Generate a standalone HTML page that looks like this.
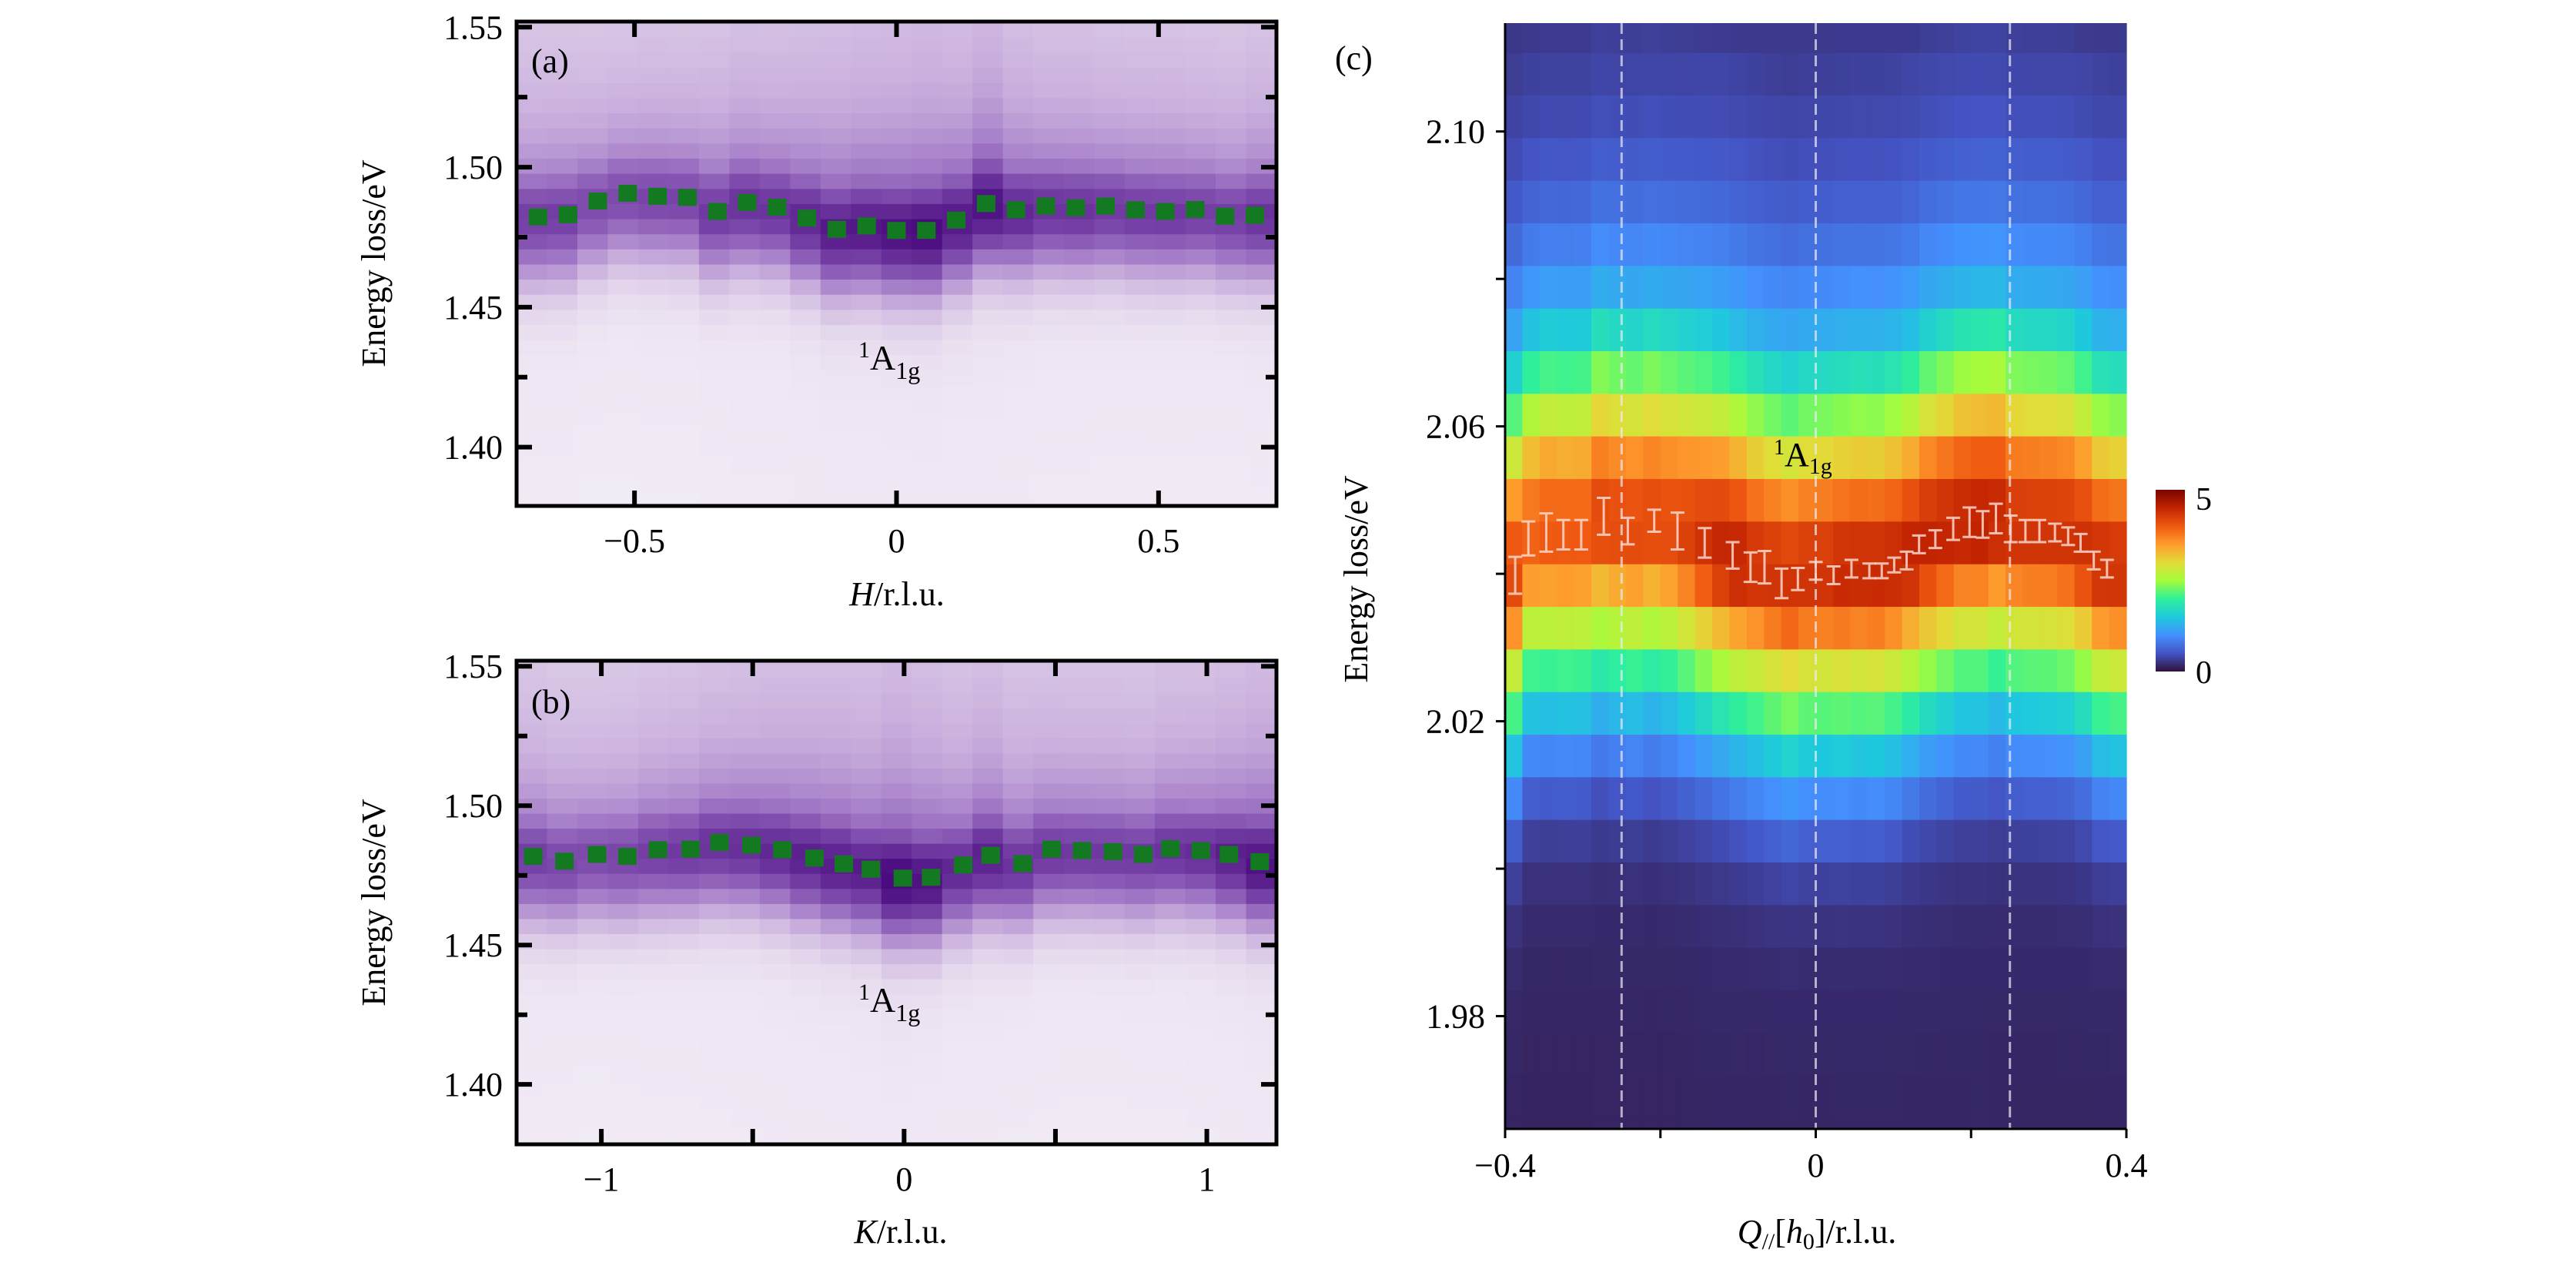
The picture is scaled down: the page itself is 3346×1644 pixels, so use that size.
<!DOCTYPE html>
<html><head><meta charset="utf-8">
<style>
html,body{margin:0;padding:0;background:#fff;}
svg{display:block;font-family:"Liberation Serif",serif;}
</style></head>
<body>
<svg id="fig" width="3346" height="1644" viewBox="0 0 3346 1644" xmlns="http://www.w3.org/2000/svg">
<g id="pa"></g>
<g id="pb"></g>
<g id="pc"></g>
<defs>
<linearGradient id="turboGrad" x1="0" y1="1" x2="0" y2="0">
<stop offset="0" stop-color="#30123b"/><stop offset="0.1" stop-color="#4454c4"/><stop offset="0.2" stop-color="#4490fe"/><stop offset="0.3" stop-color="#1fc9dd"/><stop offset="0.4" stop-color="#2ff09b"/><stop offset="0.5" stop-color="#a4fc3c"/><stop offset="0.6" stop-color="#e2dc38"/><stop offset="0.7" stop-color="#fe9b2d"/><stop offset="0.8" stop-color="#ef5911"/><stop offset="0.9" stop-color="#c22402"/><stop offset="1" stop-color="#7a0403"/>
</linearGradient>
</defs>
<text x="690" y="94" font-size="44">(a)</text>
<text x="690" y="926" font-size="44">(b)</text>
<text x="1734" y="90" font-size="44">(c)</text>
<text x="1115" y="480" font-size="46"><tspan dy="-16" font-size="30">1</tspan><tspan dy="16">A</tspan><tspan dy="12" font-size="32">1g</tspan></text>
<text x="1115" y="1314" font-size="46"><tspan dy="-16" font-size="30">1</tspan><tspan dy="16">A</tspan><tspan dy="12" font-size="32">1g</tspan></text>
<text x="2304" y="605" font-size="44"><tspan dy="-15" font-size="28">1</tspan><tspan dy="15">A</tspan><tspan dy="10" font-size="30">1g</tspan></text>
<text transform="translate(500,342) rotate(-90)" text-anchor="middle" font-size="44">Energy loss/eV</text>
<text transform="translate(500,1172) rotate(-90)" text-anchor="middle" font-size="44">Energy loss/eV</text>
<text transform="translate(1776,752) rotate(-90)" text-anchor="middle" font-size="44">Energy loss/eV</text>
<text x="1165" y="786" text-anchor="middle" font-size="44"><tspan font-style="italic">H</tspan>/r.l.u.</text>
<text x="1170" y="1614" text-anchor="middle" font-size="44"><tspan font-style="italic">K</tspan>/r.l.u.</text>
<text x="2360" y="1614" text-anchor="middle" font-size="44"><tspan font-style="italic">Q</tspan><tspan font-size="30" dy="8">//</tspan><tspan dy="-8">[</tspan><tspan font-style="italic">h</tspan><tspan font-size="30" dy="8">0</tspan><tspan dy="-8">]/r.l.u.</tspan></text>
<rect x="2800" y="636" width="38" height="236" fill="url(#turboGrad)"/>
<text x="2852" y="662" font-size="42">5</text>
<text x="2852" y="887" font-size="42">0</text>
</svg>
<script>
// ---------- Panel (a) data ----------
const aH = [-0.684,-0.627,-0.570,-0.513,-0.456,-0.399,-0.342,-0.285,-0.228,-0.171,-0.114,-0.057,0.000,0.057,0.114,0.171,0.228,0.285,0.342,0.399,0.456,0.513,0.570,0.627,0.684];
const aE = [1.4822,1.4830,1.4879,1.4907,1.4896,1.4892,1.4842,1.4874,1.4857,1.4818,1.4778,1.4790,1.4774,1.4774,1.4811,1.4870,1.4848,1.4861,1.4855,1.4861,1.4848,1.4842,1.4849,1.4825,1.4828];
const aErr = [0.0008,0.0007,0.0007,0.0006,0.0006,0.0006,0.0006,0.0006,0.0006,0.0007,0.0015,0.0017,0.0015,0.0015,0.0008,0.0006,0.0006,0.0007,0.0007,0.0007,0.0007,0.0007,0.0007,0.0007,0.0009];
const aAmp = [0.95,0.95,0.9,0.9,0.92,0.92,0.97,1.0,1.0,1.05,1.1,1.12,1.15,1.18,1.12,1.15,1.05,1.0,1.0,0.97,0.97,0.97,0.95,0.95,1.0];
const aXTicks = [-0.5,0,0.5];
const aXTickLabels = ["\u22120.5","0","0.5"];
// ---------- Panel (b) data ----------
const bK = [-1.225,-1.122,-1.014,-0.914,-0.813,-0.705,-0.610,-0.504,-0.402,-0.296,-0.199,-0.110,-0.004,0.089,0.195,0.286,0.392,0.487,0.588,0.690,0.790,0.880,0.980,1.073,1.175];
const bE = [1.4818,1.4801,1.4825,1.4818,1.4842,1.4844,1.4868,1.4858,1.4842,1.4812,1.4791,1.4772,1.4740,1.4743,1.4787,1.4822,1.4792,1.4844,1.4839,1.4835,1.4825,1.4846,1.4839,1.4825,1.4799];
const bErr = [0.0008,0.0010,0.0010,0.0010,0.0006,0.0006,0.0005,0.0006,0.0006,0.0006,0.0006,0.0015,0.0014,0.0014,0.0015,0.0007,0.0006,0.0006,0.0006,0.0006,0.0006,0.0010,0.0012,0.0012,0.0010];
const bAmp = [0.95,0.92,0.9,0.92,0.95,0.97,1.0,1.02,1.05,1.08,1.1,1.1,1.2,1.15,1.05,1.08,1.0,0.98,0.97,0.97,0.97,1.0,1.02,1.08,1.15];
const bXTicks = [-1,0,1];
const bXTickLabels = ["\u22121","0","1"];
// shared profile for (a),(b)
const abProfE = [1.370,1.400,1.420,1.435,1.445,1.455,1.462,1.470,1.478,1.485,1.492,1.500,1.507,1.515,1.525,1.540,1.560];
const abProfV = [0.06,0.07,0.08,0.10,0.15,0.28,0.45,0.66,0.82,0.86,0.76,0.58,0.50,0.44,0.38,0.33,0.28];
const abYTicks = [1.40,1.45,1.50,1.55];
const abYTickLabels = ["1.40","1.45","1.50","1.55"];
// ---------- Panel (c) data ----------
const cQ = [-0.387,-0.370,-0.347,-0.325,-0.302,-0.273,-0.242,-0.208,-0.178,-0.143,-0.107,-0.084,-0.066,-0.044,-0.023,0.000,0.023,0.046,0.069,0.085,0.101,0.117,0.133,0.154,0.177,0.198,0.215,0.232,0.251,0.270,0.288,0.308,0.325,0.341,0.358,0.375];
const cE = [2.0398,2.0448,2.0456,2.0453,2.0453,2.0478,2.0458,2.0472,2.0458,2.0442,2.0425,2.0409,2.0409,2.0387,2.0393,2.0404,2.0398,2.0407,2.0404,2.0404,2.0412,2.0418,2.0440,2.0447,2.0461,2.0470,2.0467,2.0475,2.0461,2.0458,2.0458,2.0456,2.0451,2.0442,2.0418,2.0407];
const cErr = [0.0025,0.0023,0.0026,0.0020,0.0020,0.0025,0.0018,0.0015,0.0025,0.0020,0.0018,0.0020,0.0022,0.0020,0.0015,0.0012,0.0012,0.0012,0.0010,0.0010,0.0010,0.0012,0.0012,0.0012,0.0015,0.0020,0.0018,0.0020,0.0018,0.0015,0.0015,0.0012,0.0012,0.0012,0.0012,0.0012];
const cProfE = [1.960,1.9691,1.9748,1.9807,1.9866,1.9924,1.9982,2.0039,2.0097,2.0155,2.0213,2.0270,2.0328,2.0386,2.0443,2.0501,2.0559,2.0615,2.0677,2.0735,2.0792,2.0851,2.0909,2.0966,2.1020,2.1080,2.1130,2.120];
const cProfV = [0.15,0.15,0.16,0.17,0.18,0.22,0.3,0.45,0.8,1.25,1.9,2.6,3.3,4.3,4.4,4.0,3.3,2.6,1.9,1.35,1.05,0.8,0.62,0.5,0.42,0.38,0.3,0.3];
const cAmp = [0.95,0.9,0.92,0.92,0.92,0.95,0.95,0.95,0.95,0.95,0.97,1.0,1.02,1.02,1.0,1.0,1.0,1.0,1.0,1.02,1.02,1.02,1.02,1.02,1.03,1.03,1.03,1.04,1.02,1.0,1.0,1.0,1.0,1.0,1.0,1.0];
const cYTicks = [1.98,2.02,2.06,2.10];
const cYTickLabels = ["1.98","2.02","2.06","2.10"];
const cYMinor = [2.00,2.04,2.08];
const cXTicks = [-0.4,0,0.4];
const cXTickLabels = ["\u22120.4","0","0.4"];
const cXMinor = [-0.2,0.2];
const cDashed = [-0.25,0,0.25];

const NS = "http://www.w3.org/2000/svg";
function mk(tag, parent){ const e=document.createElementNS(NS,tag); parent.appendChild(e); return e; }
function interp(xs, ys, x){
  if(x<=xs[0]) return ys[0];
  for(let i=1;i<xs.length;i++){ if(x<=xs[i]){ const t=(x-xs[i-1])/(xs[i]-xs[i-1]); return ys[i-1]+t*(ys[i]-ys[i-1]); } }
  return ys[ys.length-1];
}
function hex(c){return [parseInt(c.slice(1,3),16),parseInt(c.slice(3,5),16),parseInt(c.slice(5,7),16)];}
function cmap(stops, t){
  t=Math.max(0,Math.min(1,t));
  const n=stops.length-1, p=t*n, i=Math.min(n-1,Math.floor(p)), f=p-i;
  const a=hex(stops[i]), b=hex(stops[i+1]);
  return "rgb("+a.map((v,k)=>Math.round(v+(b[k]-v)*f)).join(",")+")";
}
const purples=["#f7f3f9","#e3d6ec","#c8addc","#a178c6","#7540a6","#4a0b7e"];
const turbo=["#30123b","#4454c4","#4490fe","#1fc9dd","#2ff09b","#a4fc3c","#e2dc38","#fe9b2d","#ef5911","#c22402","#7a0403"];

function panelAB(g, box, xr, yr, xs, es, errs, amps, xTicks, xTickLabels, xMinor, nameP){
  const X=v=>box.x+(v-xr[0])/(xr[1]-xr[0])*box.w;
  const Y=v=>box.y+box.h-(v-yr[0])/(yr[1]-yr[0])*box.h;
  const nCol=xs.length, colW=(xr[1]-xr[0])/nCol;
  const rowH=0.0054, nRow=Math.ceil((yr[1]-yr[0])/rowH);
  const ref=1.484;
  for(let j=0;j<nCol;j++){
    const x0=xr[0]+j*colW, xc=x0+colW/2;
    const p=interp(xs,es,xc);
    for(let i=0;i<nRow;i++){
      const e0=yr[0]+i*rowH, ec=e0+rowH/2;
      const v=amps[j]*interp(abProfE,abProfV,ec-(p-ref));
      const r=mk("rect",g);
      
      
      const yTop=Y(Math.min(e0+rowH,yr[1]));
      r.setAttribute("x",X(x0)); r.setAttribute("y",yTop);
      r.setAttribute("width",X(x0+colW)-X(x0)+0.6); r.setAttribute("height",Y(e0)-yTop+0.6);
      r.setAttribute("fill",cmap(purples,v));
    }
  }
  for(let k=0;k<xs.length;k++){
    const cx=X(xs[k]), cy=Y(es[k]);
    const eb=mk("path",g);
    
    
    const y1=Y(es[k]+errs[k]), y2=Y(es[k]-errs[k]);
    eb.setAttribute("d",`M${cx},${y1}V${y2}M${cx-6},${y1}H${cx+6}M${cx-6},${y2}H${cx+6}`);
    eb.setAttribute("stroke","#1f6f2a"); eb.setAttribute("stroke-width","2.5"); eb.setAttribute("fill","none");
    const s=mk("rect",g);
    
    
    s.setAttribute("x",cx-12); s.setAttribute("y",cy-11); s.setAttribute("width",24); s.setAttribute("height",22);
    s.setAttribute("fill","#137a22");
  }
  const fr=mk("rect",g);
  
  
  fr.setAttribute("x",box.x); fr.setAttribute("y",box.y); fr.setAttribute("width",box.w); fr.setAttribute("height",box.h);
  fr.setAttribute("fill","none"); fr.setAttribute("stroke","#000"); fr.setAttribute("stroke-width","5");
  const yAll=[1.40,1.425,1.45,1.475,1.50,1.525,1.55];
  yAll.forEach((v,i)=>{
    const y=Y(v), major=(i%2===0);
    const L=major?20:14;
    const t=mk("path",g);
    
    
    t.setAttribute("d",`M${box.x},${y}h${L}M${box.x+box.w},${y}h${-L}`);
    t.setAttribute("stroke","#000"); t.setAttribute("stroke-width","6");
  });
  abYTicks.forEach((v,i)=>{
    const tx=mk("text",g);
    
    
    tx.setAttribute("x",box.x-18); tx.setAttribute("y",Y(v)+15); tx.setAttribute("text-anchor","end"); tx.setAttribute("font-size","44");
    tx.textContent=abYTickLabels[i];
  });
  xTicks.concat(xMinor).forEach(v=>{
    const x=X(v);
    const t=mk("path",g);
    
    
    t.setAttribute("d",`M${x},${box.y}v20M${x},${box.y+box.h}v-20`);
    t.setAttribute("stroke","#000"); t.setAttribute("stroke-width","6");
  });
  xTicks.forEach((v,i)=>{
    const tx=mk("text",g);
    
    
    tx.setAttribute("x",X(v)); tx.setAttribute("y",box.y+box.h+60); tx.setAttribute("text-anchor","middle"); tx.setAttribute("font-size","44");
    tx.textContent=xTickLabels[i];
  });
}
panelAB(document.getElementById("pa"),{x:671,y:28,w:987,h:629},[-0.725,0.725],[1.379,1.552],aH,aE,aErr,aAmp,aXTicks,aXTickLabels,[],"a");
panelAB(document.getElementById("pb"),{x:671,y:858,w:987,h:628},[-1.28,1.23],[1.3785,1.552],bK,bE,bErr,bAmp,bXTicks,bXTickLabels,[-0.5,0.5],"b");

(function(){
  const g=document.getElementById("pc");
  const box={x:1955,y:30,w:807,h:1436};
  const xr=[-0.4,0.4], yr=[1.9647,2.1147];
  const X=v=>box.x+(v-xr[0])/(xr[1]-xr[0])*box.w;
  const Y=v=>box.y+box.h-(v-yr[0])/(yr[1]-yr[0])*box.h;
  const nCol=cQ.length, colW=(xr[1]-xr[0])/nCol;
  const rowH=0.00578, edge0=2.0587;
  const ref=2.0425;
  const kMin=Math.floor((yr[0]-edge0)/rowH), kMax=Math.ceil((yr[1]-edge0)/rowH);
  for(let j=0;j<nCol;j++){
    const x0=xr[0]+j*colW, xc=x0+colW/2;
    const p=interp(cQ,cE,xc);
    for(let k=kMin;k<kMax;k++){
      const e0=Math.max(yr[0],edge0+k*rowH), e1=Math.min(yr[1],edge0+(k+1)*rowH);
      const ec=edge0+(k+0.5)*rowH;
      const v=cAmp[j]*interp(cProfE,cProfV,ec-(p-ref));
      const r=mk("rect",g);
      
      
      r.setAttribute("x",X(x0)); r.setAttribute("y",Y(e1));
      r.setAttribute("width",X(x0+colW)-X(x0)+0.6); r.setAttribute("height",Y(e0)-Y(e1)+0.6);
      r.setAttribute("fill",cmap(turbo,v/5));
    }
  }
  cDashed.forEach(v=>{
    const l=mk("line",g);
    
    
    l.setAttribute("x1",X(v)); l.setAttribute("x2",X(v)); l.setAttribute("y1",box.y); l.setAttribute("y2",box.y+box.h);
    l.setAttribute("stroke","rgba(235,235,245,0.7)"); l.setAttribute("stroke-width","3"); l.setAttribute("stroke-dasharray","14 7");
  });
  for(let k=0;k<cQ.length;k++){
    const cx=X(cQ[k]), y1=Y(cE[k]+cErr[k]), y2=Y(cE[k]-cErr[k]);
    const eb=mk("path",g);
    
    
    eb.setAttribute("d",`M${cx},${y1}V${y2}M${cx-9},${y1}H${cx+9}M${cx-9},${y2}H${cx+9}`);
    eb.setAttribute("stroke","rgba(250,215,205,0.85)"); eb.setAttribute("stroke-width","3"); eb.setAttribute("fill","none");
  }
  const ax=mk("path",g);
  
  
  ax.setAttribute("d",`M${box.x},${box.y}V${box.y+box.h}H${box.x+box.w}`);
  ax.setAttribute("stroke","#000"); ax.setAttribute("stroke-width","3"); ax.setAttribute("fill","none");
  cYTicks.concat(cYMinor).forEach(v=>{
    const t=mk("path",g);
    
    
    t.setAttribute("d",`M${box.x},${Y(v)}h-12`); t.setAttribute("stroke","#000"); t.setAttribute("stroke-width","3");
  });
  cYTicks.forEach((v,i)=>{
    const tx=mk("text",g);
    
    
    tx.setAttribute("x",box.x-26); tx.setAttribute("y",Y(v)+15); tx.setAttribute("text-anchor","end"); tx.setAttribute("font-size","44");
    tx.textContent=cYTickLabels[i];
  });
  cXTicks.concat(cXMinor).forEach(v=>{
    const t=mk("path",g);
    
    
    t.setAttribute("d",`M${X(v)},${box.y+box.h}v12`); t.setAttribute("stroke","#000"); t.setAttribute("stroke-width","3");
  });
  cXTicks.forEach((v,i)=>{
    const tx=mk("text",g);
    
    
    tx.setAttribute("x",X(v)); tx.setAttribute("y",box.y+box.h+62); tx.setAttribute("text-anchor","middle"); tx.setAttribute("font-size","44");
    tx.textContent=cXTickLabels[i];
  });
})();
</script>
</body></html>
